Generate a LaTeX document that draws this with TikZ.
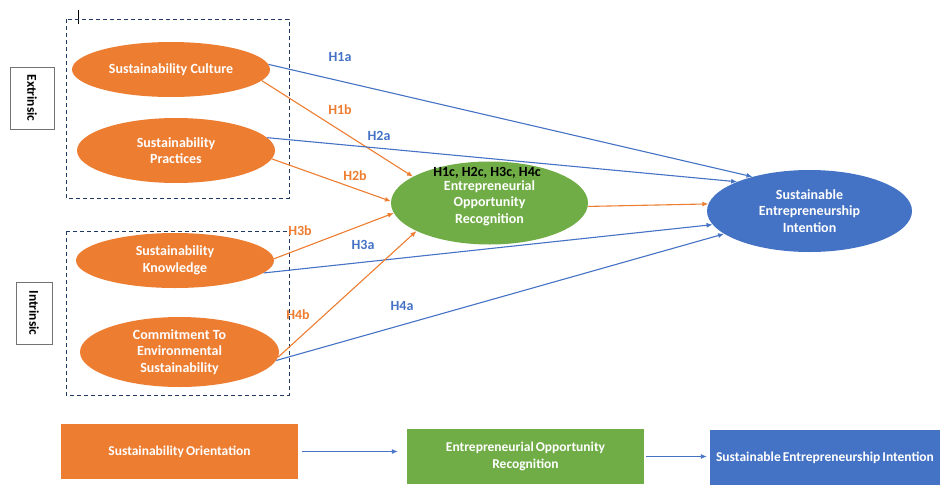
\documentclass[tikz,border=0pt]{standalone}
\usepackage{fontspec}
\setmainfont{Carlito}
\usetikzlibrary{shapes.geometric,arrows.meta}
\definecolor{soorange}{HTML}{ED7D31}
\definecolor{eorgreen}{HTML}{70AD47}
\definecolor{seiblue}{HTML}{4472C4}
\definecolor{grpblue}{HTML}{203864}
\newcommand\tightwords{\spaceskip=2pt plus 1pt\relax}
\tikzset{
   ell/.style={ellipse,fill=#1,text=white,inner sep=0pt,align=center,
      font=\fontsize{14}{16.5}\selectfont\bfseries},
   blk/.style={rectangle,fill=#1,text=white,inner sep=0pt,align=center,
      font=\fontsize{13.5}{17}\selectfont\bfseries\tightwords},
   hyp/.style={text=#1,inner sep=0pt,font=\fontsize{14}{15}\selectfont\bfseries},
   grp/.style={draw=grpblue,line width=1pt,dash pattern=on 4pt off 3pt},
   side/.style={draw=black!55,rotate=-90,inner sep=0pt,
      font=\fontsize{13.5}{15}\selectfont\bfseries},
   arr/.style={draw=#1,line width=1.1pt,-{Latex[length=6pt,width=5pt]}}
}
\begin{document}
\begin{tikzpicture}[x=1pt,y=-1pt]
   \path[use as bounding box] (0,0) rectangle (940,485);
   \draw[line width=1pt] (78,10) -- (78,24);
   \draw[grp] (66,19) rectangle (289,198);
   \draw[grp] (66,231) rectangle (289,395);
   \node[side,minimum width=62pt,minimum height=44pt] (extr) at (32,98) {Extrinsic};
   \node[side,minimum width=62pt,minimum height=36pt] (intr) at (34,313) {Intrinsic};
   \node[ell=soorange,minimum width=198pt,minimum height=55pt] (cult) at (171,69.5) {Sustainability Culture};
   \node[ell=soorange,minimum width=198pt,minimum height=65pt] (prac) at (176,150.5) {Sustainability\\Practices};
   \node[ell=soorange,minimum width=198pt,minimum height=55pt] (know) at (175,260.5) {Sustainability\\Knowledge};
   \node[ell=soorange,minimum width=199pt,minimum height=70pt] (comm) at (179.5,352) {Commitment To\\Environmental\\Sustainability};
   \node[ell=eorgreen,minimum width=197pt,minimum height=83pt] (eor) at (489.5,203) {Entrepreneurial\\Opportunity\\Recognition};
   \node[ell=seiblue,minimum width=205pt,minimum height=82pt] (sei) at (809.5,211) {Sustainable\\Entrepreneurship\\Intention};
   \node[hyp=black] (hc) at (487,173) {H1c, H2c, H3c, H4c};
   \draw[arr=seiblue] (cult.3) -- (sei.149);
   \draw[arr=soorange] (cult.-7) -- (eor.161);
   \draw[arr=seiblue] (prac.8) -- (sei.158);
   \draw[arr=soorange] (prac.-5) -- (eor.179);
   \draw[arr=soorange] (know.1) -- (eor.186);
   \draw[arr=seiblue] (know.-8) -- (sei.188);
   \draw[arr=soorange] (comm.-3) -- (eor.201);
   \draw[arr=seiblue] (comm.-5) -- (sei.195);
   \draw[arr=soorange] (eor.-2.5) -- (sei.176);
   \node[hyp=seiblue] (h1a) at (340,57) {H1a};
   \node[hyp=soorange] (h1b) at (340,110) {H1b};
   \node[hyp=seiblue] (h2a) at (379,136) {H2a};
   \node[hyp=soorange] (h2b) at (355,176) {H2b};
   \node[hyp=soorange] (h3b) at (300,231) {H3b};
   \node[hyp=seiblue] (h3a) at (363,245) {H3a};
   \node[hyp=soorange] (h4b) at (298,315) {H4b};
   \node[hyp=seiblue] (h4a) at (402,306) {H4a};
   \node[blk=soorange,minimum width=237pt,minimum height=55pt] (sobox) at (179.5,451.5) {Sustainability Orientation};
   \node[blk=eorgreen,minimum width=237pt,minimum height=55pt] (eorbox) at (525.5,456.5) {Entrepreneurial Opportunity\\Recognition};
   \node[blk=seiblue,minimum width=230pt,minimum height=55pt] (seibox) at (825,457.5) {Sustainable Entrepreneurship Intention};
   \draw[arr=seiblue,line width=0.9pt,shorten <=4pt,shorten >=9pt] (sobox.east) -- (eorbox.west |- sobox.east);
   \draw[arr=seiblue,line width=0.9pt,shorten <=2pt,shorten >=3pt] (eorbox.east) -- (seibox.west |- eorbox.east);
\end{tikzpicture}
\end{document}
